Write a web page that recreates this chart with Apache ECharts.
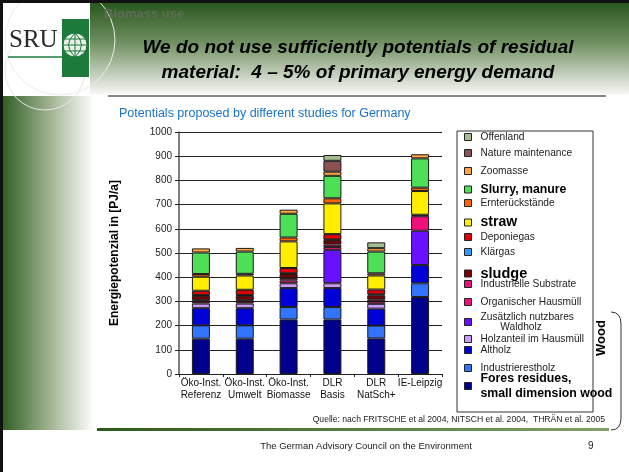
<!DOCTYPE html>
<html>
<head>
<meta charset="utf-8">
<script src="https://cdn.jsdelivr.net/npm/echarts@6/dist/echarts.min.js"></script>
<style>
	html, body { margin: 0; padding: 0; background: #fff; }
	#chart { width: 629px; height: 472px; }
</style>
</head>
<body>
<div id="chart"></div>
<script>
// studies (x axis)
var categories = ['Öko-Inst.\nReferenz', 'Öko-Inst.\nUmwelt', 'Öko-Inst.\nBiomasse', 'DLR\nBasis', 'DLR\nNatSch+', 'IE-Leipzig'];
var yTicks = [0, 100, 200, 300, 400, 500, 600, 700, 800, 900, 1000];

// PJ/a, stack order bottom -> top
var foresResidues     = [146, 146, 225, 225, 147, 318];
var industrierestholz = [55, 55, 52, 52, 53, 57];
var altholz           = [71, 71, 78, 78, 70, 75];
var holzanteil        = [19, 19, 20, 20, 20, 0];
var zusaetzlich       = [0, 0, 0, 138, 0, 142];
var organischer       = [8, 8, 12, 12, 10, 60];
var industrielle      = [6, 6, 10, 10, 7, 0];
var sludge            = [18, 18, 16, 18, 18, 6];
var klaergas          = [3, 3, 3, 3, 4, 0];
var deponiegas        = [18, 22, 22, 22, 20, 0];
var straw             = [58, 59, 110, 127, 58, 98];
var ernte             = [11, 7, 16, 21, 9, 14];
var slurry            = [89, 92, 98, 93, 90, 121];
var zoomasse          = [17, 15, 17, 17, 14, 17];
var nature            = [0, 0, 0, 45, 0, 0];
var offenland         = [0, 0, 0, 24, 24, 0];

var waldholz = 'Zusätzlich nutzbares\n       Waldholz';
var fores = 'Fores residues,\nsmall dimension wood';

var stack = [
	{name: fores, data: foresResidues, color: '#00008c'},
	{name: 'Industrierestholz', data: industrierestholz, color: '#3374ff'},
	{name: 'Altholz', data: altholz, color: '#0000d8'},
	{name: 'Holzanteil im Hausmüll', data: holzanteil, color: '#cc99ff'},
	{name: waldholz, data: zusaetzlich, color: '#6611ff'},
	{name: 'Organischer Hausmüll', data: organischer, color: '#f0107a'},
	{name: 'Industrielle Substrate', data: industrielle, color: '#e8127f'},
	{name: 'sludge', data: sludge, color: '#7a0000'},
	{name: 'Klärgas', data: klaergas, color: '#3399ff'},
	{name: 'Deponiegas', data: deponiegas, color: '#e00000'},
	{name: 'straw', data: straw, color: '#ffee00'},
	{name: 'Ernterückstände', data: ernte, color: '#ff6600'},
	{name: 'Slurry, manure', data: slurry, color: '#4ddf55'},
	{name: 'Zoomasse', data: zoomasse, color: '#ffa640'},
	{name: 'Nature maintenance', data: nature, color: '#8a5252'},
	{name: 'Offenland', data: offenland, color: '#a3bf8f'}
];

// legend layout (top -> bottom)
var legendOrder = ['Offenland', 'Nature maintenance', 'Zoomasse', 'Slurry, manure', 'Ernterückstände', 'straw',
	'Deponiegas', 'Klärgas', 'sludge', 'Industrielle Substrate', 'Organischer Hausmüll',
	waldholz, 'Holzanteil im Hausmüll', 'Altholz', 'Industrierestholz', fores];
var legendTop = [132, 148, 166, 182, 198, 215, 232, 247, 266, 279, 297, 312, 334, 345, 363, 371];
var bigItems = {'Slurry, manure': 12.3, 'straw': 14, 'sludge': 14.5};
bigItems[fores] = 12.3;

var font = 'Liberation Sans, Arial, sans-serif';
var green = '#1c7a3b';

var series = stack.map(function(s){
	return {
		name: s.name,
		type: 'bar',
		stack: 'total',
		barWidth: 18,
		data: s.data.map(function(v){ return v > 0 ? v : '-'; }),
		itemStyle: {color: s.color, borderColor: '#1a1a1a', borderWidth: 1},
		emphasis: {disabled: true}
	};
});

var legends = legendOrder.map(function(name, i){
	var big = bigItems[name];
	return {
		data: [name],
		left: 464,
		top: legendTop[i],
		orient: 'vertical',
		padding: 0,
		itemGap: 0,
		itemWidth: 7,
		itemHeight: 7,
		icon: 'rect',
		itemStyle: {borderColor: '#222', borderWidth: 1},
		textStyle: {
			fontFamily: font,
			fontSize: big ? big : 10.2,
			fontWeight: big ? 'bold' : 'normal',
			color: big ? '#000' : '#222',
			lineHeight: big ? 15 : 10,
			padding: [0, 0, 0, 4]
		}
	};
});

function curve(x1, y1, cx, cy, x2, y2, color, z) {
	return {type: 'bezierCurve', z: z || 5,
		shape: {x1: x1, y1: y1, cpx1: cx, cpy1: cy, x2: x2, y2: y2},
		style: {fill: 'none', stroke: color, lineWidth: 1}};
}

var ec = echarts.init(document.getElementById('chart'), null, {renderer: 'canvas'});

var option = {
	backgroundColor: '#fff',
	animation: false,
	textStyle: {fontFamily: font},
	grid: {left: 179, right: 187, top: 132, bottom: 98, containLabel: false},
	legend: legends,
	xAxis: {
		type: 'category',
		data: categories,
		axisLine: {lineStyle: {color: '#222', width: 1}},
		axisTick: {show: true, length: 3, lineStyle: {color: '#222'}},
		axisLabel: {fontSize: 10, color: '#111', lineHeight: 12, margin: 3, interval: 0}
	},
	yAxis: {
		type: 'value',
		min: yTicks[0],
		max: yTicks[yTicks.length - 1],
		interval: 100,
		name: 'Energiepotenzial in [PJ/a]',
		nameLocation: 'middle',
		nameGap: 58,
		nameTextStyle: {fontSize: 12, fontWeight: 'bold', color: '#000'},
		axisLine: {show: true, lineStyle: {color: '#555', width: 1.5}},
		axisTick: {show: true, length: 4, lineStyle: {color: '#222'}},
		axisLabel: {fontSize: 10, color: '#222', margin: 7, formatter: function(v){ return String(v); }},
		splitLine: {lineStyle: {color: '#222', width: 1}}
	},
	series: series,
	graphic: [
		// header band
		{type: 'rect', z: -10, shape: {x: 90, y: 0, width: 539, height: 94},
			style: {fill: new echarts.graphic.LinearGradient(0, 0, 0, 1, [
				{offset: 0, color: '#24521a'}, {offset: 0.45, color: '#6f8f60'}, {offset: 1, color: '#f6f6f4'}])}},
		// left strip
		{type: 'rect', z: -10, shape: {x: 2, y: 96, width: 92, height: 334},
			style: {fill: new echarts.graphic.LinearGradient(0, 0, 1, 0, [
				{offset: 0, color: '#2f5e22'}, {offset: 0.5, color: '#9db08e'}, {offset: 1, color: '#ffffff'}])}},
		// frame
		{type: 'rect', z: 5, shape: {x: 0, y: 0, width: 629, height: 3}, style: {fill: '#111'}},
		{type: 'rect', z: 5, shape: {x: 0, y: 0, width: 3, height: 472}, style: {fill: '#111'}},
		// logo
		{type: 'circle', z: -5, shape: {cx: 45, cy: 70, r: 40}, style: {fill: 'none', stroke: '#e6e6e6', lineWidth: 1}},
		{type: 'circle', z: -5, shape: {cx: 60, cy: 40, r: 55}, style: {fill: 'none', stroke: '#ececec', lineWidth: 1}},
		{type: 'text', z: 5, x: 9, y: 28, style: {text: 'SRU', font: '25px "Liberation Serif", "DejaVu Serif", serif', fill: '#2a2a2a'}},
		{type: 'line', z: 5, shape: {x1: 8, y1: 57, x2: 62, y2: 57}, style: {stroke: green, lineWidth: 1.5}},
		{type: 'rect', z: 5, shape: {x: 62, y: 19, width: 27, height: 58}, style: {fill: green}},
		{type: 'circle', z: 6, shape: {cx: 75, cy: 45, r: 12}, style: {fill: '#e8f0e8', stroke: green, lineWidth: 1}},
		{type: 'line', z: 7, shape: {x1: 63, y1: 45, x2: 87, y2: 45}, style: {stroke: green, lineWidth: 1}},
		{type: 'line', z: 7, shape: {x1: 75, y1: 33, x2: 75, y2: 57}, style: {stroke: green, lineWidth: 1}},
		{type: 'line', z: 7, shape: {x1: 65, y1: 39, x2: 85, y2: 39}, style: {stroke: green, lineWidth: 1}},
		{type: 'line', z: 7, shape: {x1: 65, y1: 51, x2: 85, y2: 51}, style: {stroke: green, lineWidth: 1}},
		curve(75, 33, 62, 45, 75, 57, green, 7),
		curve(75, 33, 88, 45, 75, 57, green, 7),
		// titles
		{type: 'text', z: 5, x: 104, y: 8, style: {text: 'Biomass use', font: 'bold 13px ' + font, fill: '#5e6e56'}},
		{type: 'text', z: 5, x: 358, y: 38, style: {text: 'We do not use sufficiently potentials of residual',
			font: 'italic bold 19px ' + font, fill: '#000', align: 'center'}},
		{type: 'text', z: 5, x: 358, y: 63, style: {text: 'material:  4 – 5% of primary energy demand',
			font: 'italic bold 19px ' + font, fill: '#000', align: 'center'}},
		{type: 'line', z: 5, shape: {x1: 108, y1: 96, x2: 606, y2: 96}, style: {stroke: '#111', lineWidth: 1.2}},
		{type: 'text', z: 5, x: 119, y: 107, style: {text: 'Potentials proposed by different studies for Germany',
			font: '12.5px ' + font, fill: '#1a72c8'}},
		// legend box + wood bracket
		{type: 'rect', z: 1, shape: {x: 457, y: 131, width: 136, height: 281}, style: {fill: 'none', stroke: '#333', lineWidth: 1}},
		{type: 'text', z: 5, x: 601, y: 338, rotation: Math.PI / 2,
			style: {text: 'Wood', font: 'bold 13px ' + font, fill: '#000', align: 'center', verticalAlign: 'middle'}},
		curve(611, 312, 621, 312, 621, 324, '#333'),
		{type: 'line', z: 5, shape: {x1: 621, y1: 324, x2: 621, y2: 418}, style: {stroke: '#333', lineWidth: 1}},
		curve(621, 418, 621, 430, 611, 430, '#333'),
		// source + footer
		{type: 'text', z: 5, x: 605, y: 415, style: {text: 'Quelle: nach FRITSCHE et al 2004, NITSCH et al. 2004,  THRÄN et al. 2005',
			font: '8.6px ' + font, fill: '#222', align: 'right'}},
		{type: 'rect', z: 5, shape: {x: 97, y: 428, width: 512, height: 3},
			style: {fill: new echarts.graphic.LinearGradient(0, 0, 1, 0, [
				{offset: 0, color: '#2c5a1e'}, {offset: 1, color: '#7fa267'}])}},
		{type: 'text', z: 5, x: 366, y: 441, style: {text: 'The German Advisory Council on the Environment',
			font: '9.5px ' + font, fill: '#222', align: 'center'}},
		{type: 'text', z: 5, x: 588, y: 441, style: {text: '9', font: '10px ' + font, fill: '#222'}}
	]
};
ec.setOption(option);
</script>
</body>
</html>
